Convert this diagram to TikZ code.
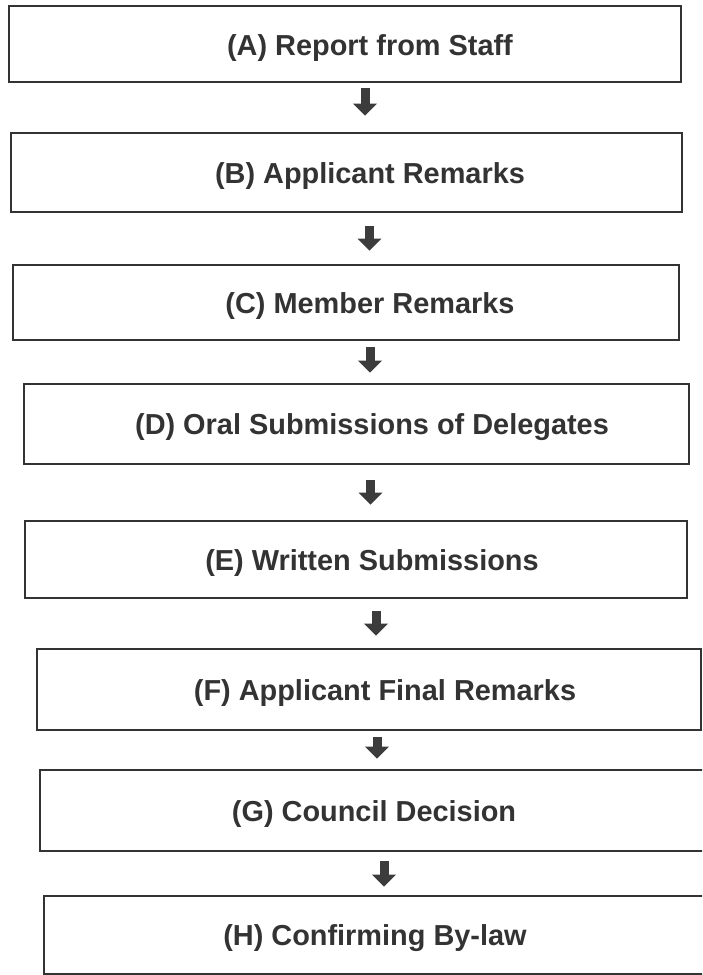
\documentclass[tikz,border=0pt]{standalone}
\usepackage{fontspec}
\setmainfont{Liberation Sans}
\usetikzlibrary{arrows.meta}

\definecolor{ink}{HTML}{333333}
\definecolor{arrowgray}{HTML}{3C3C3C}

\tikzset{
	stagebox/.style={draw=ink, line width=2.6pt, rectangle, inner sep=0pt},
	stagetext/.style={anchor=base, inner sep=0pt, text=ink, font=\bfseries\fontsize{28.9}{34}\selectfont},
	flow/.style={draw=arrowgray, line width=9pt, -{Triangle[width=23pt,length=12pt]}}
}

\begin{document}
\begin{tikzpicture}[x=1pt,y=1pt]
\useasboundingbox (0,0) rectangle (702,-975);
\clip (0,0) rectangle (702,-975);

% boxes
\node[stagebox, minimum width=672pt, minimum height=76pt] (boxA) at (345,-44) {};
\node[stagebox, minimum width=671pt, minimum height=79pt] (boxB) at (346.5,-172.5) {};
\node[stagebox, minimum width=666pt, minimum height=75pt] (boxC) at (346,-302.5) {};
\node[stagebox, minimum width=665pt, minimum height=80pt] (boxD) at (356.5,-424) {};
\node[stagebox, minimum width=662pt, minimum height=77pt] (boxE) at (356,-559.5) {};
\node[stagebox, minimum width=664pt, minimum height=81pt] (boxF) at (369,-689.5) {};
\node[stagebox, minimum width=664pt, minimum height=81pt] (boxG) at (372,-810.5) {};
\node[stagebox, minimum width=662pt, minimum height=78pt] (boxH) at (375,-935) {};

% labels
\node[stagetext] (labA) at (370,-55) {(A) Report from Staff};
\node[stagetext] (labB) at (370,-183) {(B) Applicant Remarks};
\node[stagetext] (labC) at (370,-313) {(C) Member Remarks};
\node[stagetext] (labD) at (372,-434.5) {(D) Oral Submissions of Delegates};
\node[stagetext] (labE) at (372,-570) {(E) Written Submissions};
\node[stagetext] (labF) at (385,-700) {(F) Applicant Final Remarks};
\node[stagetext] (labG) at (374,-821) {(G) Council Decision};
\node[stagetext] (labH) at (375,-945.5) {(H) Confirming By-law};

% arrows
\draw[flow, shorten <=5pt, shorten >=16pt] ([xshift=20pt]boxA.south) -- ([xshift=20pt]boxA.south |- boxB.north);
\draw[flow, shorten <=13pt, shorten >=13pt] ([xshift=23pt]boxB.south) -- ([xshift=23pt]boxB.south |- boxC.north);
\draw[flow, shorten <=6pt, shorten >=10pt] ([xshift=24pt]boxC.south) -- ([xshift=24pt]boxC.south |- boxD.north);
\draw[flow, shorten <=15pt, shorten >=15pt] ([xshift=14pt]boxD.south) -- ([xshift=14pt]boxD.south |- boxE.north);
\draw[flow, shorten <=12pt, shorten >=12pt] ([xshift=20pt]boxE.south) -- ([xshift=20pt]boxE.south |- boxF.north);
\draw[flow, shorten <=6pt, shorten >=10pt] ([xshift=8pt]boxF.south) -- ([xshift=8pt]boxF.south |- boxG.north);
\draw[flow, shorten <=9pt, shorten >=8pt] ([xshift=12pt]boxG.south) -- ([xshift=12pt]boxG.south |- boxH.north);

\end{tikzpicture}
\end{document}
